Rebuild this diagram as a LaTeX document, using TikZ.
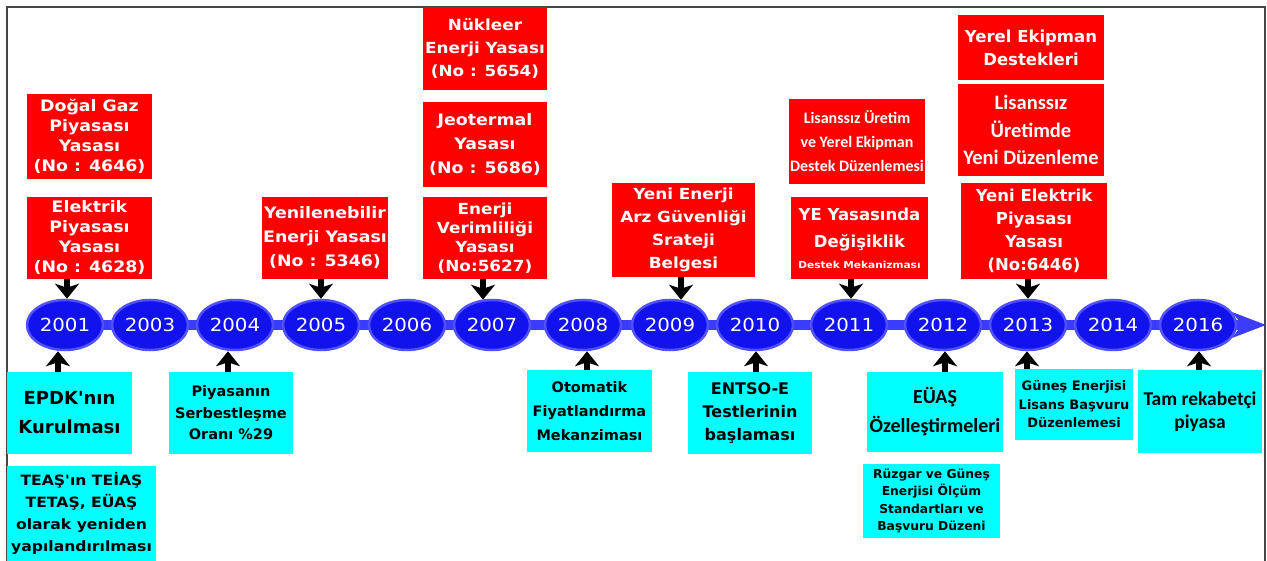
\documentclass[tikz,border=0pt]{standalone}
\usepackage{fontspec}
\usetikzlibrary{shapes.geometric,arrows.meta}
\newfontfamily\dv{DejaVu Sans}
\newfontfamily\dvs[FakeStretch=1.1]{DejaVu Sans}
\newfontfamily\cb{Carlito}
\definecolor{rboxc}{RGB}{255,0,0}
\definecolor{cboxc}{RGB}{0,255,255}
\definecolor{ellf}{RGB}{18,18,238}
\definecolor{elld}{RGB}{80,80,255}
\definecolor{barc}{RGB}{60,60,255}
\definecolor{framec}{RGB}{70,70,70}
\newcommand{\fs}[2]{\fontsize{#1}{#2}\selectfont}
\begin{document}
\begin{tikzpicture}[x=1pt,y=-1pt,
 rbox/.style={fill=rboxc,text=white,inner sep=0pt,align=center},
 cbox/.style={fill=cboxc,text=black,inner sep=0pt,align=center},
 yr/.style={ellipse,fill=ellf,draw=elld,line width=2.5pt,minimum width=76pt,minimum height=50pt,inner sep=0pt,text=white,font=\dvs\fs{18}{20}},
 darr/.style={line width=5.5pt,black,-{Stealth[length=15pt,width=24pt,inset=4pt]}},
 bar/.style={line width=10pt,barc},
]
\useasboundingbox (0,0) rectangle (1267,561);
\fill[white] (0,0) rectangle (1267,561);
\draw[line width=1.6pt,framec] (7,561) -- (7,7) -- (1265,7) -- (1265,561);

% timeline bar
\coordinate (bs) at (35,325);
\coordinate (be) at (1242,325);
\draw[bar] (bs) -- (be);
\fill[barc] (1232,312) -- (1266,325) -- (1232,338) -- (1242,325) -- cycle;

% year ellipses
\node[yr] (y2001) at (65,325) {2001};
\node[yr] (y2003) at (150,325) {2003};
\node[yr] (y2004) at (235,325) {2004};
\node[yr] (y2005) at (321,325) {2005};
\node[yr] (y2006) at (407,325) {2006};
\node[yr] (y2007) at (492,325) {2007};
\node[yr] (y2008) at (583,325) {2008};
\node[yr] (y2009) at (670,325) {2009};
\node[yr] (y2010) at (755,325) {2010};
\node[yr] (y2011) at (849,325) {2011};
\node[yr] (y2012) at (943,325) {2012};
\node[yr] (y2013) at (1028,325) {2013};
\node[yr] (y2014) at (1113,325) {2014};
\node[yr] (y2016) at (1198,325) {2016};

% red boxes
\node[rbox,minimum width=125pt,minimum height=85pt,font=\dvs\bfseries\fs{15.8}{20}] (gaz) at (89.5,136.5) {Doğal Gaz\\Piyasası\\Yasası\\(No : 4646)};
\node[rbox,minimum width=125pt,minimum height=82pt,font=\dvs\bfseries\fs{15.8}{20}] (elek) at (89.5,238) {Elektrik\\Piyasası\\Yasası\\(No : 4628)};
\node[rbox,minimum width=126pt,minimum height=82pt,font=\dvs\bfseries\fs{15.8}{24}] (yen) at (325,238) {Yenilenebilir\\Enerji Yasası\\(No : 5346)};
\node[rbox,minimum width=124pt,minimum height=83pt,font=\dvs\bfseries\fs{15.3}{23}] (nuk) at (485,48.5) {Nükleer\\Enerji Yasası\\(No : 5654)};
\node[rbox,minimum width=124pt,minimum height=85pt,font=\dvs\bfseries\fs{15.8}{24}] (jeo) at (485,144.5) {Jeotermal\\Yasası\\(No : 5686)};
\node[rbox,minimum width=124pt,minimum height=82pt,font=\dvs\bfseries\fs{15.3}{19}] (ver) at (485,238) {Enerji\\Verimliliği\\Yasası\\(No:5627)};
\node[rbox,minimum width=143pt,minimum height=94pt,font=\dvs\bfseries\fs{15.3}{23}] (arz) at (683.5,230) {Yeni Enerji\\Arz Güvenliği\\Srateji\\Belgesi};
\node[rbox,minimum width=136pt,minimum height=85pt,font=\cb\bfseries\fs{16}{24}] (lis1) at (857,141.5) {Lisanssız Üretim\\ve Yerel Ekipman\\Destek Düzenlemesi};
\node[rbox,minimum width=137pt,minimum height=82pt,font=\dv\bfseries\fs{16.5}{27}] (ye) at (859.5,238) {YE Yasasında\\Değişiklik\\[-6pt]\dvs\bfseries\fs{9.6}{12}Destek Mekanizması};
\node[rbox,minimum width=146pt,minimum height=65pt,font=\dv\bfseries\fs{16.5}{23}] (yer) at (1031,47.5) {Yerel Ekipman\\Destekleri};
\node[rbox,minimum width=146pt,minimum height=92pt,font=\cb\bfseries\fs{20.5}{27.5}] (lis2) at (1031,130) {Lisanssız\\Üretimde\\Yeni Düzenleme};
\node[rbox,minimum width=146pt,minimum height=96pt,font=\dv\bfseries\fs{16.5}{23}] (yel) at (1034,231) {Yeni Elektrik\\Piyasası\\Yasası\\(No:6446)};

% cyan boxes
\node[cbox,minimum width=125pt,minimum height=82pt,font=\dv\bfseries\fs{18}{29}] (epdk) at (69.5,413) {EPDK'nın\\Kurulması};
\node[cbox,minimum width=149pt,minimum height=95pt,font=\dvs\bfseries\fs{14.2}{22}] (teas) at (81.5,513.5) {TEAŞ'ın TEİAŞ\\TETAŞ, EÜAŞ\\olarak yeniden\\yapılandırılması};
\node[cbox,minimum width=124pt,minimum height=82pt,font=\dv\bfseries\fs{14.5}{21.5}] (piy) at (231,413) {Piyasanın\\Serbestleşme\\Oranı \%29};
\node[cbox,minimum width=125pt,minimum height=82pt,font=\dv\bfseries\fs{14.5}{24}] (oto) at (589.5,411) {Otomatik\\Fiyatlandırma\\Mekanziması};
\node[cbox,minimum width=124pt,minimum height=82pt,font=\dv\bfseries\fs{16}{23}] (ent) at (750,413) {ENTSO-E\\Testlerinin\\başlaması};
\node[cbox,minimum width=136pt,minimum height=80pt,font=\cb\bfseries\fs{20}{29}] (euas) at (935,412) {EÜAŞ\\Özelleştirmeleri};
\node[cbox,minimum width=137pt,minimum height=74pt,font=\dv\bfseries\fs{12.3}{17.5}] (ruz) at (931.5,501) {Rüzgar ve Güneş\\Enerjisi Ölçüm\\Standartları ve\\Başvuru Düzeni};
\node[cbox,minimum width=118pt,minimum height=71pt,font=\dv\bfseries\fs{13}{18.5}] (gun) at (1074,404.5) {Güneş Enerjisi\\Lisans Başvuru\\Düzenlemesi};
\node[cbox,minimum width=124pt,minimum height=83pt,font=\cb\bfseries\fs{19.5}{23}] (tam) at (1200,411.5) {Tam rekabetçi\\piyasa};

% anchor points on ellipses
\coordinate (d2001) at ([xshift=2pt]y2001.north);
\coordinate (d2005) at (y2005.north);
\coordinate (d2007) at ([xshift=-9pt,yshift=-1pt]y2007.north);
\coordinate (d2009) at ([xshift=11pt,yshift=-1pt]y2009.north);
\coordinate (d2011) at ([xshift=2pt]y2011.north);
\coordinate (d2013) at (y2013.north);
\coordinate (u2001) at ([xshift=-7pt]y2001.south);
\coordinate (u2004) at ([xshift=-7pt]y2004.south);
\coordinate (u2008) at ([xshift=4pt]y2008.south);
\coordinate (u2010) at ([xshift=1pt]y2010.south);
\coordinate (u2012) at ([xshift=2pt]y2012.south);
\coordinate (u2013) at ([xshift=-1pt]y2013.south);
\coordinate (u2016) at ([xshift=1pt]y2016.south);

% down arrows
\draw[darr] (elek.south -| d2001) -- (d2001);
\draw[darr] (yen.south -| d2005) -- (d2005);
\draw[darr] (ver.south -| d2007) -- (d2007);
\draw[darr] (arz.south -| d2009) -- (d2009);
\draw[darr] (ye.south -| d2011) -- (d2011);
\draw[darr] (yel.south -| d2013) -- (d2013);
% up arrows
\draw[darr] (epdk.north -| u2001) -- (u2001);
\draw[darr] (piy.north -| u2004) -- (u2004);
\draw[darr] (oto.north -| u2008) -- (u2008);
\draw[darr] (ent.north -| u2010) -- (u2010);
\draw[darr] (euas.north -| u2012) -- (u2012);
\draw[darr] (gun.north -| u2013) -- (u2013);
\draw[darr] (tam.north -| u2016) -- (u2016);
\end{tikzpicture}
\end{document}
